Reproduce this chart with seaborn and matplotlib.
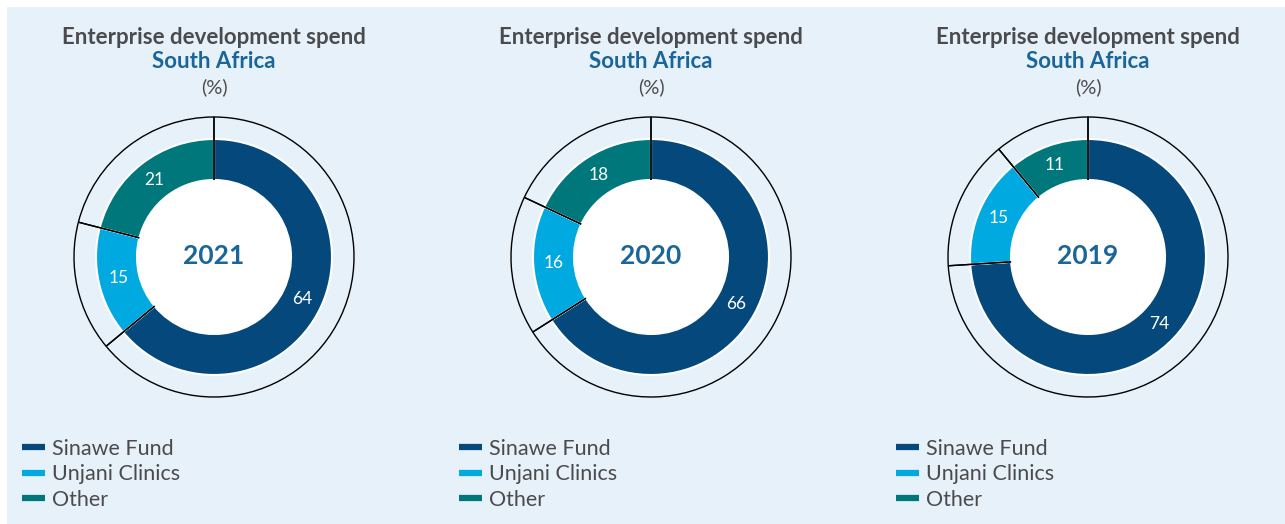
import matplotlib
matplotlib.use("Agg")
import matplotlib.pyplot as plt
import matplotlib.patches as mpatches
from matplotlib.lines import Line2D
import numpy as np
import seaborn as sns

# Data
years = ["2021", "2020", "2019"]
categories = ["Sinawe Fund", "Unjani Clinics", "Other"]
sinawe = [64, 66, 74]
unjani = [15, 16, 15]
other = [21, 18, 11]

title_main = "Enterprise development spend"
title_region = "South Africa"
title_unit = "(%)"

sns.set_theme(style="white")
plt.rcParams["font.family"] = ["Lato", "DejaVu Sans"]

palette = sns.color_palette(["#05497c", "#00a9e0", "#00787b"])
bg = "#e6f1fa"
grey = "#4b4b4d"
blue_txt = "#1a6599"

W, H = 1285, 524
fig = plt.figure(figsize=(W / 100, H / 100), dpi=100)
fig.patch.set_facecolor("white")
ax = fig.add_axes([0, 0, 1, 1])
ax.set_xlim(0, W)
ax.set_ylim(0, H)
ax.set_aspect("equal")
ax.axis("off")

# light panel behind the charts
ax.add_patch(mpatches.Rectangle((7, 0), W - 7, H - 7, facecolor=bg,
                                edgecolor="none", zorder=0))

spacing = 437
cx0, cy = 214, H - 257
r_out, r_ring, r_in = 140, 118, 77

for i, year in enumerate(years):
    cx = cx0 + i * spacing
    vals = [sinawe[i], unjani[i], other[i]]

    # coloured donut
    wedges, _ = ax.pie(vals, colors=palette, startangle=90, counterclock=False,
                       radius=r_ring, center=(cx, cy), frame=True,
                       wedgeprops=dict(width=r_ring - r_in, edgecolor="white",
                                       linewidth=1.5, zorder=2))

    # outline ring with segment dividers
    ax.pie(vals, startangle=90, counterclock=False, radius=r_out,
           center=(cx, cy), frame=True,
           wedgeprops=dict(fill=False, edgecolor="black", linewidth=1.0,
                           zorder=3))

    # white hub
    ax.add_patch(mpatches.Circle((cx, cy), r_in, facecolor="white",
                                 edgecolor="none", zorder=4))

    # value labels at the middle of each segment
    r_lab = (r_ring + r_in) / 2
    for w, v in zip(wedges, vals):
        ang = np.deg2rad((w.theta1 + w.theta2) / 2)
        ax.text(cx + r_lab * np.cos(ang), cy + r_lab * np.sin(ang), str(v),
                ha="center", va="center", color="white", fontsize=12.5,
                zorder=5)

    ax.text(cx, cy + 1, year, ha="center", va="center", color=blue_txt,
            fontsize=19, fontweight="bold", zorder=5)

    # titles
    ax.text(cx, H - 38, title_main, ha="center", va="center", color=grey,
            fontsize=16, fontweight="bold")
    ax.text(cx, H - 62, title_region, ha="center", va="center",
            color=blue_txt, fontsize=16, fontweight="bold")
    ax.text(cx, H - 87, title_unit, ha="center", va="center", color=grey,
            fontsize=14.5)

    # legend
    handles = [Line2D([0], [0], color=c, linewidth=4.5,
                      solid_capstyle="butt") for c in palette]
    leg = fig.legend(handles, categories, loc="upper left",
                     bbox_to_anchor=((22 + i * spacing) / W, (H - 439) / H),
                     frameon=False, handlelength=1.07,
                     handletextpad=0.33, labelspacing=0.25, borderpad=0,
                     borderaxespad=0, prop=dict(size=15.5))
    for t in leg.get_texts():
        t.set_color(grey)

ax.set_xlim(0, W)
ax.set_ylim(0, H)
fig.savefig("out.png", dpi=100, facecolor=fig.get_facecolor())
